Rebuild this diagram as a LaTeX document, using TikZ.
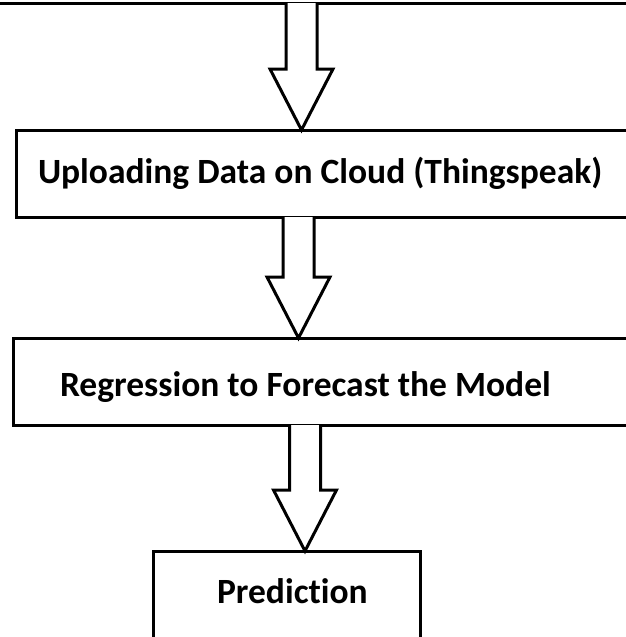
\documentclass[tikz,border=0pt]{standalone}
\usepackage{fontspec}
\setmainfont[Ligatures=NoCommon]{Carlito}
\usetikzlibrary{calc}
\tikzset{
  box/.style={draw=black, line width=3pt, fill=white, rectangle, inner sep=0pt, outer sep=0pt, anchor=north west},
  lbl/.style={font=\bfseries\fontsize{35.5}{40}\selectfont, inner sep=0pt, outer sep=0pt, anchor=base west},
  barrow/.style={draw=black, line width=3pt, fill=white, line join=miter}
}
\newcommand\blockarrow[3]{%
  \coordinate (t) at (#1 |- #2.south);
  \coordinate (tip) at (#1 |- #3.north);
  \coordinate (hb) at ($(tip)+(0,-61)$);
  \draw[barrow] ($(t)+(-15.5,0)$) -- ($(hb)+(-15.5,0)$) -- ($(hb)+(-31.5,0)$) -- (tip)
     -- ($(hb)+(31.5,0)$) -- ($(hb)+(15.5,0)$) -- ($(t)+(15.5,0)$);
}
\begin{document}
\begin{tikzpicture}[x=1pt,y=-1pt]
\useasboundingbox (0,0) rectangle (626,637);
% boxes
\node[box, minimum width=720pt, minimum height=103pt] (b0) at (-20,-100) {};
\node[box, minimum width=700pt, minimum height=87pt] (b1) at (16,130) {};
\node[box, minimum width=700pt, minimum height=87pt] (b2) at (13,338) {};
\node[box, minimum width=267pt, minimum height=150pt] (b3) at (153,551) {};
% labels
\node[lbl] (t1) at (38,183) {Uploading Data on Cloud (Thingspeak)};
\node[lbl] (t2) at (60,396) {Regression to Forecast the Model};
\node[lbl] (t3) at (217,603) {Prediction};
% arrows
\coordinate (x1) at (301.5,0);
\coordinate (x2) at (298.5,0);
\coordinate (x3) at (305,0);
\blockarrow{x1}{b0}{b1}
\blockarrow{x2}{b1}{b2}
\blockarrow{x3}{b2}{b3}
\end{tikzpicture}
\end{document}
